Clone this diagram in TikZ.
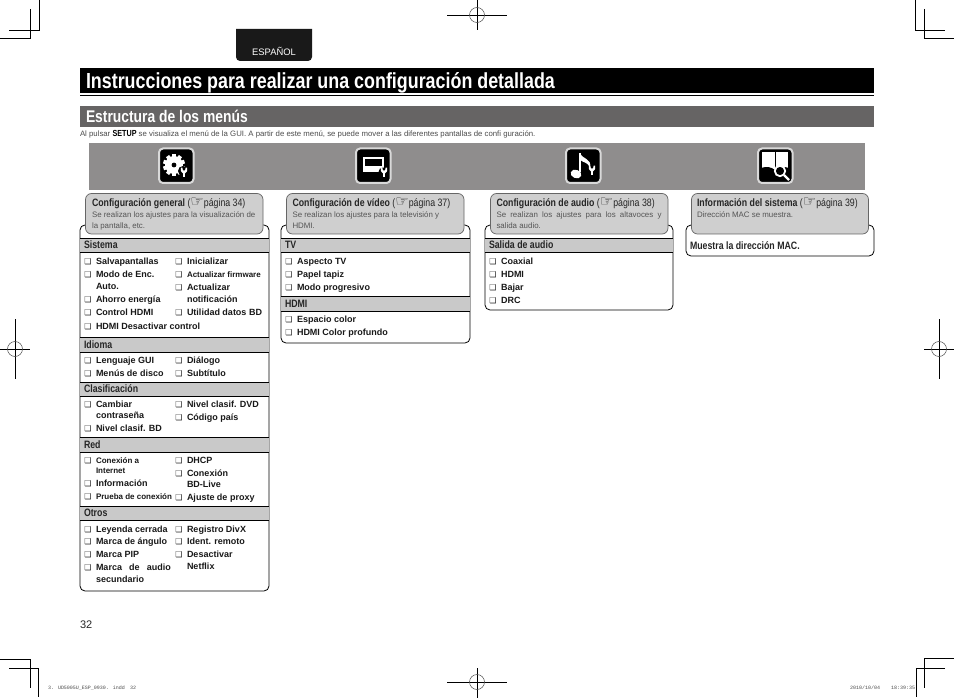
\documentclass[tikz,border=0pt]{standalone}
\usepackage{fontspec}
\setmainfont{Liberation Sans}
\newfontfamily\narrowf[FakeStretch=0.82]{Liberation Sans}
\newfontfamily\monof{Liberation Mono}
\newfontfamily\symf{DejaVu Sans}
\definecolor{bandgray}{HTML}{8F8D8D}
\definecolor{secgray}{HTML}{666464}
\definecolor{headgray}{HTML}{CFCFCF}
\definecolor{bargray}{HTML}{C9C9C9}
\definecolor{desc}{HTML}{555555}
\newcommand{\fs}[1]{\fontsize{#1}{#1}\selectfont}
\tikzset{
  crop/.style={line width=0.9pt,draw=black},
  regc/.style={line width=0.5pt,draw=black!70},
  panel/.style={draw=black,line width=0.8pt,fill=white,rounded corners=5pt},
  headbox/.style={draw=black!60,line width=0.7pt,fill=headgray,rounded corners=6pt},
  txt/.style={inner sep=0pt,outer sep=0pt,anchor=base west},
  itemt/.style={txt,font=\fs{9}\bfseries,text=black!90},
  smallt/.style={txt,font=\fs{8}\bfseries,text=black!90},
  cbx/.style={inner sep=0pt,outer sep=0pt,anchor=base,font=\symf\fs{8},text=black!85},
  bart/.style={txt,font=\narrowf\fs{10.7}\bfseries,text=black!85},
  headt/.style={txt,font=\narrowf\fs{10.7}\bfseries,text=black!85},
  desct/.style={txt,font=\fs{7.9},text=desc},
  iconout/.style={draw=black!15,line width=2pt,fill=black,rounded corners=4pt},
}
\newcommand{\chk}[5][itemt]{\node[cbx] (#2c) at (#3-8,#4+6) {❑};\node[#1] (#2) at (#3,#4+6) {#5};}
\newcommand{\cont}[5][itemt]{\node[#1] (#2) at (#3,#4+6) {#5};}
\newcommand{\secbar}[6]{\fill[bargray] (#2,#4) rectangle (#3,#5);
  \draw[black,line width=0.8pt] (#2,#4) -- (#3,#4) (#2,#5) -- (#3,#5);
  \node[bart] (#1) at (#2+4,#5-3.6) {#6};}
\newcommand{\hand}{{\symf\fs{15}☞}}
\newcommand{\wrench}[2]{\begin{scope}[shift={(#1,#2)},scale=0.85]
  \fill[white] (-1.1,0) rectangle (1.1,6);
  \fill[white] (-3.6,-5) -- (-1.9,-5) -- (-1.3,-2) -- (1.3,-2) -- (1.9,-5) -- (3.6,-5) -- (3.6,-1) -- (1.4,1.5) -- (-1.4,1.5) -- (-3.6,-1) -- cycle;
  \end{scope}}
\begin{document}
\begin{tikzpicture}[x=1pt,y=-1pt]
\useasboundingbox (0,0) rectangle (954,698);
\fill[white] (0,0) rectangle (954,698);
% crop marks
\draw[crop] (0,38) -- (30,38) -- (30,9) (9,30) -- (39,30) -- (39,0);
\draw[crop] (915,0) -- (915,30) -- (945,30) (924,9) -- (924,38) -- (954,38);
\draw[crop] (0,659) -- (30,659) -- (30,688) (9,668) -- (38,668) -- (38,697);
\draw[crop] (954,658) -- (924,658) -- (924,688) (945,668) -- (916,668) -- (916,697);
% registration marks
\draw[crop] (447,15) -- (507,15) (477,0) -- (477,30);
\draw[regc] (477,15) circle[radius=7.5];
\draw[crop] (447,682) -- (507,682) (477,668) -- (477,698);
\draw[regc] (477,682) circle[radius=7.5];
\draw[crop] (0,349) -- (30,349) (15,319) -- (15,379);
\draw[regc] (15,349) circle[radius=7.5];
\draw[crop] (924,349) -- (954,349) (939,319) -- (939,379);
\draw[regc] (939,349) circle[radius=7.5];
% tab
\fill[black!90] (236,29) -- (312,29) -- (312,57) arc[start angle=0,end angle=90,radius=4] -- (240,61) arc[start angle=90,end angle=180,radius=4] -- cycle;
\node[inner sep=0pt,text=white,font=\fs{9.4}] (tab) at (274,51) {ESPAÑOL};
% title
\fill[black] (80,68) rectangle (874,93);
\fill[black] (80,94.6) rectangle (874,96.4);
\node[txt,text=white,font=\narrowf\fs{21.8}\bfseries] (title) at (86,89) {Instrucciones para realizar una configuración detallada};
% section
\fill[secgray] (80,106) rectangle (874,127);
\node[txt,text=white,font=\narrowf\fs{16.9}\bfseries] (sect) at (86,122.5) {Estructura de los menús};
\node[txt,text=black!70,font=\fs{7.8}] (intro) at (80,137) {Al pulsar {\narrowf\fs{8.8}\bfseries\color{black} SETUP} se visualiza el menú de la GUI. A partir de este menú, se puede mover a las diferentes pantallas de confi guración.};
% band
\fill[bandgray] (89,143) rectangle (865,190);
% icons
\draw[iconout] (159,148.5) rectangle (193.5,183);
\begin{scope}[shift={(174,165)}]
  \foreach \a in {0,36,...,324} {\fill[white,rotate=\a] (-1.9,-11) rectangle (1.9,-7);}
  \fill[white] (0,0) circle[radius=9];
  \fill[black] (0,0) circle[radius=2.4];
\end{scope}
\fill[black] (183,171) circle[radius=5];
\wrench{184}{172}
\draw[iconout] (356,148.5) rectangle (390.5,183);
\fill[white] (363,157) rectangle (384,172);
\fill[black] (365,159) rectangle (382,166);
\fill[black] (383,172) circle[radius=4.5];
\wrench{384}{172}
\draw[iconout] (566,148.5) rectangle (600.5,183);
\fill[white] (578.5,153) rectangle (581,172);
\fill[white] (576,174) ellipse[x radius=5.5,y radius=4.2,rotate=-20];
\fill[white] (580,153) .. controls (583,160) and (592,158) .. (590,168) .. controls (588,162) and (584,163) .. (580,160) -- cycle;
\fill[black] (592,170) circle[radius=4.5];
\wrench{592}{170}
\draw[iconout] (758,148.5) rectangle (792.5,183);
\fill[white] (762,152) rectangle (788,173);
\draw[black,line width=0.8pt] (775,152) -- (775,169);
\fill[black] (761,168) .. controls (767,166) and (771,167) .. (775,170) .. controls (778,167) and (783,166) .. (789,168) -- (789,176) -- (761,176) -- cycle;
\draw[white,line width=1.8pt,fill=black] (780,171) circle[radius=5.2];
\draw[white,line width=2.2pt] (784,175) -- (789,180);
% panel 1
\draw[panel] (80,225) rectangle (269,591);
\secbar{b1}{80}{269}{238.5}{252.5}{Sistema}
\secbar{b2}{80}{269}{337}{352}{Idioma}
\secbar{b3}{80}{269}{382}{396.5}{Clasificación}
\secbar{b4}{80}{269}{437}{452}{Red}
\secbar{b5}{80}{269}{506}{520}{Otros}
\draw[headbox] (85.5,193.5) rectangle (263,234);
\node[headt] (h1) at (92,206.5) {Configuración general {\mdseries (\hand página 34)}};
\node[desct] (d1a) at (92,217.5) {Se realizan los ajustes para la visualización de};
\node[desct] (d1b) at (92,228.5) {la pantalla, etc.};
\chk{a1}{96}{258}{Salvapantallas}
\chk{a2}{96}{271}{Modo de Enc.}
\cont{a2b}{96}{283}{Auto.}
\chk{a3}{96}{296}{Ahorro energía}
\chk{a4}{96}{309}{Control HDMI}
\chk{a5}{96}{323}{HDMI Desactivar control}
\chk{a6}{187}{258}{Inicializar}
\chk[smallt]{a7}{187}{271}{Actualizar firmware}
\chk{a8}{187}{284}{Actualizar}
\cont{a8b}{187}{296}{notificación}
\chk{a9}{187}{309}{Utilidad datos BD}
\chk{a10}{96}{357}{Lenguaje GUI}
\chk{a11}{96}{370}{Menús de disco}
\chk{a12}{187}{357}{Diálogo}
\chk{a13}{187}{370}{Subtítulo}
\chk{a14}{96}{401}{Cambiar}
\cont{a14b}{96}{412}{contraseña}
\chk{a15}{96}{425}{Nivel clasif. BD}
\chk{a16}{187}{401}{Nivel clasif. DVD}
\chk{a17}{187}{414}{Código país}
\chk[smallt]{a18}{96}{457}{Conexión a}
\cont[smallt]{a18b}{96}{467}{Internet}
\chk{a19}{96}{480}{Información}
\chk[smallt]{a20}{96}{493}{Prueba de conexión}
\chk{a21}{187}{457}{DHCP}
\chk{a22}{187}{470}{Conexión}
\cont{a22b}{187}{481}{BD-Live}
\chk{a23}{187}{494}{Ajuste de proxy}
\chk{a24}{96}{526}{Leyenda cerrada}
\chk{a25}{96}{538}{Marca de ángulo}
\chk{a26}{96}{551}{Marca PIP}
\chk{a27}{96}{564}{\makebox[75pt][s]{Marca de audio}}
\cont{a27b}{96}{576}{secundario}
\chk{a28}{187}{526}{Registro DivX}
\chk{a29}{187}{538}{Ident. remoto}
\chk{a30}{187}{551}{Desactivar}
\cont{a30b}{187}{563}{Netflix}
% panel 2
\draw[panel] (281,225) rectangle (470,343);
\secbar{b6}{281}{470}{238.5}{252.5}{TV}
\secbar{b7}{281}{470}{296}{311}{HDMI}
\draw[headbox] (286.5,193.5) rectangle (464,234);
\node[headt] (h2) at (292.5,206.5) {Configuración de vídeo {\mdseries (\hand página 37)}};
\node[desct] (d2a) at (292.5,217.5) {Se realizan los ajustes para la televisión y};
\node[desct] (d2b) at (292.5,228.5) {HDMI.};
\chk{c1}{297}{258}{Aspecto TV}
\chk{c2}{297}{271}{Papel tapiz}
\chk{c3}{297}{284}{Modo progresivo}
\chk{c4}{297}{316}{Espacio color}
\chk{c5}{297}{329}{HDMI Color profundo}
% panel 3
\draw[panel] (485,225) rectangle (673,310);
\secbar{b8}{485}{673}{238.5}{252.5}{Salida de audio}
\draw[headbox] (490.5,193.5) rectangle (668,234);
\node[headt] (h3) at (496.5,206.5) {Configuración de audio {\mdseries (\hand página 38)}};
\node[desct] (d3a) at (496.5,217.5) {\makebox[165pt][s]{Se realizan los ajustes para los altavoces y}};
\node[desct] (d3b) at (496.5,228.5) {salida audio.};
\chk{e1}{501}{258}{Coaxial}
\chk{e2}{501}{271}{HDMI}
\chk{e3}{501}{284}{Bajar}
\chk{e4}{501}{297}{DRC}
% panel 4
\draw[panel] (686,225) rectangle (874,256);
\draw[headbox] (691.5,193.5) rectangle (868.5,234);
\node[headt] (h4) at (697,206.5) {Información del sistema {\mdseries (\hand página 39)}};
\node[desct] (d4a) at (697,217.5) {Dirección MAC se muestra.};
\node[bart] (m1) at (690,250) {Muestra la dirección MAC.};
% footer
\node[txt,font=\fs{11},text=black!85] (pg) at (80,628) {32};
\node[txt,font=\monof\fs{5},text=black!70] (f1) at (48,689) {3. UD5005U\_ESP\_0930. indd};
\node[txt,font=\monof\fs{5},text=black!70] (f2) at (130,689) {32};
\node[txt,font=\monof\fs{5},text=black!70] (f3) at (850,689) {2010/10/04};
\node[txt,font=\monof\fs{5},text=black!70] (f4) at (891,689) {18:39:35};
\end{tikzpicture}
\end{document}
